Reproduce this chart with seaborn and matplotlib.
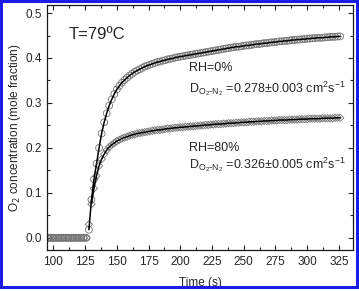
import numpy as np
import pandas as pd
import matplotlib
matplotlib.use("Agg")
import matplotlib.pyplot as plt
from matplotlib.patches import Rectangle
from matplotlib.ticker import MultipleLocator
import seaborn as sns


# 1. Data
time = np.arange(96, 328, 2)  # s, one sample every 2 s

flat = [0.0] * 16  # 96 .. 126 s

o2_rh0 = flat + [
    0.018, 0.085, 0.130, 0.165, 0.200, 0.232, 0.257, 0.277, 0.294, 0.308,
    0.320, 0.330, 0.338, 0.345, 0.351, 0.356, 0.361, 0.365, 0.369, 0.372,
    0.375, 0.378, 0.381, 0.383, 0.385, 0.387, 0.389, 0.391, 0.392, 0.394,
    0.395, 0.397, 0.398, 0.399, 0.401, 0.402, 0.403, 0.404, 0.405, 0.406,
    0.407, 0.408, 0.409, 0.410, 0.411, 0.412, 0.413, 0.414, 0.415, 0.416,
    0.417, 0.418, 0.419, 0.420, 0.421, 0.422, 0.423, 0.424, 0.425, 0.425,
    0.426, 0.427, 0.428, 0.428, 0.429, 0.430, 0.431, 0.431, 0.432, 0.433,
    0.433, 0.434, 0.435, 0.435, 0.436, 0.437, 0.437, 0.438, 0.438, 0.439,
    0.440, 0.440, 0.441, 0.441, 0.442, 0.442, 0.443, 0.443, 0.444, 0.444,
    0.445, 0.445, 0.445, 0.446, 0.446, 0.447, 0.447, 0.447, 0.448, 0.448,
]

o2_rh80 = flat + [
    0.030, 0.075, 0.110, 0.138, 0.160, 0.175, 0.186, 0.195, 0.202, 0.207,
    0.211, 0.215, 0.218, 0.221, 0.223, 0.225, 0.227, 0.229, 0.230, 0.232,
    0.233, 0.234, 0.235, 0.236, 0.237, 0.238, 0.239, 0.240, 0.240, 0.241,
    0.242, 0.243, 0.243, 0.244, 0.245, 0.245, 0.246, 0.246, 0.247, 0.247,
    0.248, 0.248, 0.249, 0.249, 0.250, 0.250, 0.251, 0.251, 0.252, 0.252,
    0.253, 0.253, 0.253, 0.254, 0.254, 0.255, 0.255, 0.255, 0.256, 0.256,
    0.257, 0.257, 0.257, 0.258, 0.258, 0.258, 0.259, 0.259, 0.259, 0.260,
    0.260, 0.260, 0.261, 0.261, 0.261, 0.262, 0.262, 0.262, 0.262, 0.263,
    0.263, 0.263, 0.263, 0.264, 0.264, 0.264, 0.264, 0.265, 0.265, 0.265,
    0.265, 0.265, 0.266, 0.266, 0.266, 0.266, 0.266, 0.267, 0.267, 0.267,
]

df = pd.DataFrame({"Time": time, "RH0": o2_rh0, "RH80": o2_rh80})
fit_rh0 = df[df["Time"] >= 128]
fit_rh80 = df[df["Time"] >= 130]


# 2. Plot
sns.set_style("ticks")
plt.rcParams["font.family"] = ["Liberation Sans", "DejaVu Sans"]

fig = plt.figure(figsize=(3.59, 2.91), dpi=100)
ax = fig.add_axes([0.131, 0.141, 0.852, 0.842])

sns.scatterplot(data=df, x="Time", y="RH0", ax=ax, marker="o", s=24,
                facecolor="none", edgecolor="0.45", linewidth=0.6, zorder=2)
sns.scatterplot(data=df, x="Time", y="RH80", ax=ax, marker="D", s=14,
                facecolor="none", edgecolor="0.45", linewidth=0.6, zorder=2)
sns.lineplot(data=fit_rh0, x="Time", y="RH0", ax=ax, color="black",
             linewidth=1.1, zorder=3)
sns.lineplot(data=fit_rh80, x="Time", y="RH80", ax=ax, color="black",
             linewidth=1.1, zorder=3)

ax.set_xlim(95, 336)
ax.set_ylim(-0.027, 0.518)
ax.xaxis.set_major_locator(MultipleLocator(25))
ax.xaxis.set_minor_locator(MultipleLocator(12.5))
ax.yaxis.set_major_locator(MultipleLocator(0.1))
ax.yaxis.set_minor_locator(MultipleLocator(0.05))
ax.yaxis.set_major_formatter(matplotlib.ticker.FormatStrFormatter("%.1f"))
ax.tick_params(which="both", direction="in", top=True, right=True,
               width=0.8, labelsize=8.5, colors="0.15")
ax.tick_params(axis="x", pad=4.5)
ax.tick_params(which="major", length=3.5)
ax.tick_params(which="minor", length=2)
for s in ax.spines.values():
    s.set_linewidth(0.9)
    s.set_color("0.1")

ax.set_xlabel("Time (s)", fontsize=8.5, labelpad=6, color="0.15")
ax.set_ylabel("O$_2$ concentration (mole fraction)", fontsize=8.5,
              labelpad=2, color="0.15")

ax.text(112, 0.453, "T=79ºC", fontsize=12, va="center", ha="left")
ax.text(207, 0.378, "RH=0%", fontsize=9, va="center", ha="left")
ax.text(207, 0.333,
        r"D$_{\mathregular{O_2\text{-}N_2}}$ =0.278±0.003 cm$^\mathregular{2}$s$^\mathregular{-1}$",
        fontsize=9, va="center", ha="left")
ax.text(207, 0.200, "RH=80%", fontsize=9, va="center", ha="left")
ax.text(207, 0.162,
        r"D$_{\mathregular{O_2\text{-}N_2}}$ =0.326±0.005 cm$^\mathregular{2}$s$^\mathregular{-1}$",
        fontsize=9, va="center", ha="left")

# blue frame around the whole figure
fig.add_artist(Rectangle((0.004, 0.014), 0.99, 0.982, transform=fig.transFigure,
                         fill=False, edgecolor="#1c1ce8", linewidth=2.2,
                         zorder=10))

fig.savefig("out.png", dpi=100)
